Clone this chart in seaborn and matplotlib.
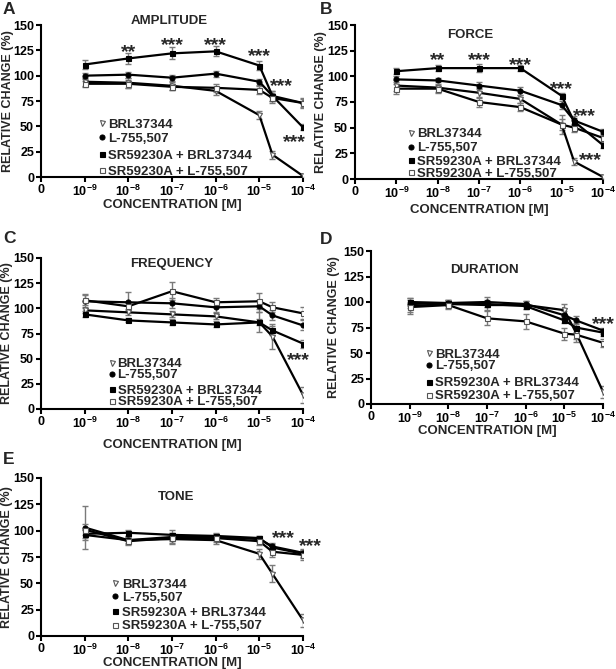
import numpy as np
import pandas as pd
import matplotlib
matplotlib.use("Agg")
import matplotlib.pyplot as plt
import matplotlib.transforms as mtransforms
import seaborn as sns

# ---------------- data ----------------
conc_labels = ["0", "10^{-9}", "10^{-8}", "10^{-7}", "10^{-6}", "10^{-5}", "10^{-4}"]
conc_tick_pos = [-10, -9, -8, -7, -6, -5, -4]          # log10 positions of ticks ("0" placed one decade below 1e-9)
conc_points = [1e-9, 1e-8, 1e-7, 1e-6, 1e-5, 2e-5, 1e-4]  # concentrations tested (M)

series_names = ["BRL37344", "L-755,507", "SR59230A + BRL37344", "SR59230A + L-755,507"]

# AMPLITUDE
amp_brl      = [94, 93, 90, 85, 61, 22, 1]
amp_l755     = [100, 101, 98, 102, 94, 80, 73]
amp_sr_brl   = [111, 117, 122, 124, 110, 80, 49]
amp_sr_l755  = [92, 92, 89, 88, 86, 78, 73]
amp_brl_err     = [4, 5, 4, 4, 4, 4, 1]
amp_l755_err    = [3, 3, 3, 3, 3, 5, 4]
amp_sr_brl_err  = [4, 5, 6, 5, 4, 5, 3]
amp_sr_l755_err = [3, 4, 3, 4, 4, 5, 5]

# FORCE
frc_brl      = [91, 89, 84, 78, 53, 17, 2]
frc_l755     = [97, 96, 91, 86, 72, 57, 46]
frc_sr_brl   = [105, 108, 108, 108, 81, 56, 33]
frc_sr_l755  = [88, 88, 75, 70, 53, 50, 40]
frc_brl_err     = [5, 4, 5, 4, 9, 3, 1]
frc_l755_err    = [3, 2, 3, 4, 4, 4, 3]
frc_sr_brl_err  = [3, 3, 4, 3, 3, 3, 3]
frc_sr_l755_err = [5, 4, 5, 4, 5, 4, 4]

# FREQUENCY
frq_brl      = [98, 96, 94, 92, 86, 72, 14]
frq_l755     = [107, 106, 105, 101, 102, 93, 83]
frq_sr_brl   = [94, 88, 86, 84, 86, 78, 65]
frq_sr_l755  = [108, 102, 117, 106, 107, 101, 95]
frq_brl_err     = [3, 3, 3, 3, 10, 12, 8]
frq_l755_err    = [7, 10, 5, 5, 6, 5, 5]
frq_sr_brl_err  = [3, 2, 3, 3, 3, 4, 4]
frq_sr_l755_err = [5, 4, 9, 4, 8, 5, 6]

# DURATION
dur_brl      = [96, 98, 97, 97, 92, 70, 12]
dur_l755     = [98, 99, 100, 98, 87, 82, 72]
dur_sr_brl   = [100, 99, 98, 96, 82, 75, 70]
dur_sr_l755  = [95, 97, 84, 81, 69, 68, 60]
dur_brl_err     = [8, 4, 5, 4, 6, 6, 6]
dur_l755_err    = [4, 3, 5, 3, 4, 4, 3]
dur_sr_brl_err  = [4, 3, 3, 3, 3, 4, 3]
dur_sr_l755_err = [5, 4, 7, 7, 6, 7, 4]

# TONE
ton_brl      = [96, 91, 92, 91, 78, 59, 15]
ton_l755     = [103, 91, 94, 94, 92, 85, 79]
ton_sr_brl   = [97, 98, 96, 95, 93, 84, 78]
ton_sr_l755  = [101, 90, 93, 93, 90, 80, 77]
ton_brl_err     = [5, 4, 5, 4, 5, 8, 6]
ton_l755_err    = [20, 3, 4, 3, 3, 3, 4]
ton_sr_brl_err  = [4, 3, 5, 3, 2, 3, 4]
ton_sr_l755_err = [5, 4, 5, 4, 4, 5, 5]

panel_titles = ["AMPLITUDE", "FORCE", "FREQUENCY", "DURATION", "TONE"]
panel_letters = ["A", "B", "C", "D", "E"]

# significance marks: (text, x log10, y)
amp_stars = [("**", -8, 129), ("***", -7, 136), ("***", -6, 136), ("***", -5, 125), ("***", -4.5, 96), ("***", -4.2, 40)]
frc_stars = [("**", -8, 122), ("***", -7, 122), ("***", -6, 117), ("***", -5, 93), ("***", -4.45, 67), ("***", -4.3, 24)]
frq_stars = [("***", -4.1, 55)]
dur_stars = [("***", -4.0, 84)]
ton_stars = [("***", -4.45, 99), ("***", -3.82, 91)]

# ---------------- styling ----------------
sns.set_style("ticks")
plt.rcParams["font.family"] = ["Liberation Sans", "DejaVu Sans"]
plt.rcParams["font.weight"] = "bold"
plt.rcParams["mathtext.fontset"] = "custom"
plt.rcParams["mathtext.rm"] = "Liberation Sans:bold"
plt.rcParams["mathtext.it"] = "Liberation Sans:bold"
plt.rcParams["mathtext.bf"] = "Liberation Sans:bold"
plt.rcParams["mathtext.default"] = "rm"

W, H = 616, 669
fig = plt.figure(figsize=(W / 100, H / 100), dpi=100)

def rect(l, r, t, b):
    return [l / W, 1 - b / H, (r - l) / W, (b - t) / H]

axes_rects = [rect(41, 303, 25, 177), rect(355, 603, 25, 179), rect(41, 303, 258, 409),
              rect(371, 603, 251, 404), rect(41, 303, 478, 636)]
letter_pos = [(3, 2), (320, 2), (3, 231), (320, 232), (3, 452)]
title_pos = [(-7.06, 155), (-7.2, 142), (-7.0, 146), (-7.07, 133), (-6.9, 133)]
xlabel_pad = [0.0, 2.0, 5.5, -1.0, -1.0]
ylabel_pad = [-1.0, 0.0, 0.0, 2.0, 0.0]
# legend layout in axes fractions: marker x, text x, row centres
legend_mx = [0.233, 0.226, 0.271, 0.250, 0.282]
legend_tx = [0.256, 0.250, 0.292, 0.276, 0.309]
legend_rows = [[0.355, 0.263, 0.151, 0.046],
               [0.299, 0.208, 0.123, 0.045],
               [0.305, 0.232, 0.132, 0.053],
               [0.333, 0.255, 0.144, 0.059],
               [0.335, 0.253, 0.158, 0.070]]

panels = [
    ([amp_brl, amp_l755, amp_sr_brl, amp_sr_l755], [amp_brl_err, amp_l755_err, amp_sr_brl_err, amp_sr_l755_err], amp_stars),
    ([frc_brl, frc_l755, frc_sr_brl, frc_sr_l755], [frc_brl_err, frc_l755_err, frc_sr_brl_err, frc_sr_l755_err], frc_stars),
    ([frq_brl, frq_l755, frq_sr_brl, frq_sr_l755], [frq_brl_err, frq_l755_err, frq_sr_brl_err, frq_sr_l755_err], frq_stars),
    ([dur_brl, dur_l755, dur_sr_brl, dur_sr_l755], [dur_brl_err, dur_l755_err, dur_sr_brl_err, dur_sr_l755_err], dur_stars),
    ([ton_brl, ton_l755, ton_sr_brl, ton_sr_l755], [ton_brl_err, ton_l755_err, ton_sr_brl_err, ton_sr_l755_err], ton_stars),
]

marker_map = {series_names[0]: "v", series_names[1]: "o", series_names[2]: "s", series_names[3]: "s"}
fill_map = {series_names[0]: False, series_names[1]: True, series_names[2]: True, series_names[3]: False}
logx = np.log10(conc_points)
FS = 9
MS = 3.6

def mstyle(name):
    return dict(marker=marker_map[name], markersize=MS,
                markerfacecolor="black" if fill_map[name] else "white",
                markeredgecolor="black" if fill_map[name] else "#555555",
                markeredgewidth=0.8)

for i, (vals, errs, stars) in enumerate(panels):
    ax = fig.add_axes(axes_rects[i])
    rows = []
    for name, v, e in zip(series_names, vals, errs):
        for x, y, ee in zip(logx, v, e):
            rows.append({"x": x, "y": y, "err": ee, "series": name})
    df = pd.DataFrame(rows)
    # error bars
    for name in series_names:
        d = df[df.series == name]
        ax.errorbar(d.x, d.y, yerr=d.err, fmt="none", ecolor="#7a7a7a", elinewidth=1.0,
                    capsize=2.5, capthick=1.0, zorder=2)
    sns.lineplot(data=df, x="x", y="y", hue="series", palette=["black"] * 4,
                 legend=False, errorbar=None, ax=ax, linewidth=1.6, zorder=3, sort=False)
    # markers
    for name in series_names:
        d = df[df.series == name]
        ax.plot(d.x, d.y, linestyle="none", zorder=4, **mstyle(name))
    ax.set_xlim(-10, -4)
    ax.set_ylim(0, 150)
    ax.set_xticks(conc_tick_pos)
    ax.set_xticklabels(["0"] + ["$" + s + "$" for s in conc_labels[1:]])
    ax.set_yticks([0, 25, 50, 75, 100, 125, 150])
    ax.set_yticklabels(["0", "25", "50", "75", "100", "125", "150"])
    for s in ["top", "right"]:
        ax.spines[s].set_visible(False)
    for s in ["left", "bottom"]:
        ax.spines[s].set_linewidth(1.5)
        ax.spines[s].set_color("black")
    ax.tick_params(axis="both", direction="out", length=3.5, width=1.5, labelsize=FS, pad=1.5, colors="black")
    for lab in ax.get_xticklabels() + ax.get_yticklabels():
        lab.set_fontweight("bold")
    ax.set_xlabel("CONCENTRATION [M]", fontsize=FS + 0.5, fontweight="bold", labelpad=xlabel_pad[i])
    ax.set_ylabel("RELATIVE CHANGE (%)", fontsize=FS, fontweight="bold", labelpad=ylabel_pad[i])
    ax.text(title_pos[i][0], title_pos[i][1], panel_titles[i], ha="center", va="center_baseline",
            fontsize=FS + 0.5, fontweight="bold")
    star_tr = mtransforms.offset_copy(ax.transData, fig=fig, y=-11, units="dots")
    for txt, x, y in stars:
        ax.text(x, y, txt, ha="center", va="baseline", fontsize=14, fontweight="bold",
                clip_on=False, transform=star_tr)
    # legend
    for name, ry in zip(series_names, legend_rows[i]):
        ax.plot([legend_mx[i]], [ry], linestyle="none", transform=ax.transAxes, clip_on=False,
                zorder=5, **mstyle(name))
        ax.text(legend_tx[i], ry, name, transform=ax.transAxes, ha="left", va="center_baseline",
                fontsize=FS + 0.5, fontweight="bold")
    fig.text(letter_pos[i][0] / W, 1 - letter_pos[i][1] / H, panel_letters[i], ha="left", va="top",
             fontsize=12.5, fontweight="bold")

fig.savefig("out.png", dpi=100)
